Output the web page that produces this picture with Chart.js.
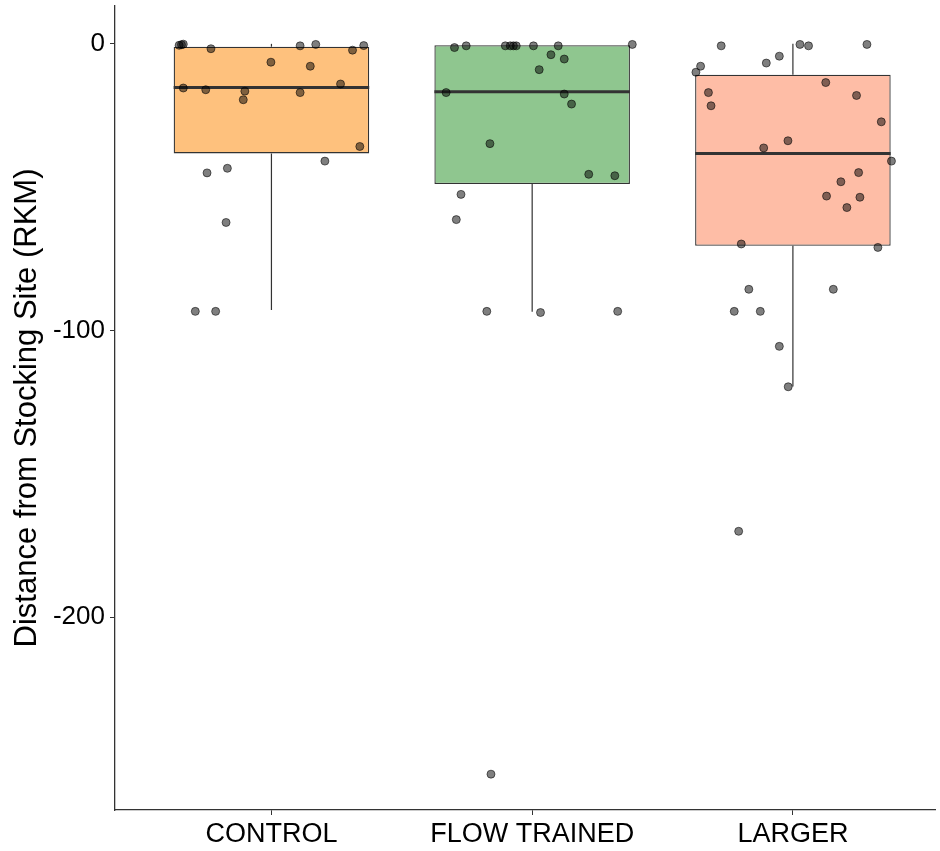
<!DOCTYPE html>
<html>
<head>
<meta charset="utf-8">
<script src="https://cdn.jsdelivr.net/npm/chart.js@4/dist/chart.umd.min.js"></script>
<style>
  html, body { margin: 0; padding: 0; background: #fff; }
  #wrap { width: 940px; height: 851px; }
</style>
</head>
<body>
<div id="wrap"><canvas id="boxChart" width="940" height="851"></canvas></div>
<script>
// categories and tick labels
const categories = ['CONTROL', 'FLOW TRAINED', 'LARGER'];
const yTicks = [0, -100, -200];

// box summaries, one value per category
const q1 = [-38.2, -48.9, -70.4];
const medians = [-15.2, -16.7, -38.2];
const q3 = [-1.0, -0.5, -10.8];
const whiskerLow = [-92.8, -93.4, -119.5];
const whiskerHigh = [0, -0.5, 0];

// jittered points: horizontal offset from the category centre and value
const controlJitter = [-0.354, -0.345, -0.338, -0.232, -0.002, 0.110, 0.170, 0.149, 0.311, 0.354, 0.265, -0.338,
  -0.252, -0.102, -0.108, 0.110, 0.339, 0.205, -0.169, -0.247, -0.174, -0.292, -0.214];
const controlValues = [-0.5, -0.3, -0.1, -1.7, -6.4, -0.7, -0.2, -7.8, -2.2, -0.6, -14.0, -15.4,
  -16.0, -16.5, -19.5, -17.0, -35.8, -40.9, -43.4, -45.0, -62.3, -93.3, -93.3];

const flowJitter = [-0.298, -0.253, -0.103, -0.084, -0.072, -0.061, 0.005, 0.100, 0.384, 0.072, 0.123, 0.027,
  -0.330, 0.123, 0.151, -0.162, 0.217, 0.317, -0.273, -0.291, -0.174, 0.032, 0.328, -0.158];
const flowValues = [-1.3, -0.7, -0.7, -0.7, -0.7, -0.7, -0.7, -0.7, -0.2, -3.8, -5.3, -9.0,
  -17.0, -17.5, -21.0, -34.8, -45.5, -46.0, -52.5, -61.3, -93.3, -93.7, -93.3, -254.7];

const largerJitter = [-0.275, 0.027, 0.060, 0.284, -0.052, -0.102, -0.354, -0.372, 0.126, -0.324, 0.244, -0.314,
  0.339, -0.019, -0.112, 0.378, 0.252, 0.184, 0.129, 0.257, 0.207, -0.198, 0.326, -0.169, 0.155,
  -0.225, -0.125, -0.052, -0.018, -0.208];
const largerValues = [-0.7, -0.2, -0.7, -0.2, -4.3, -6.7, -7.8, -9.9, -13.5, -17.0, -18.0, -21.6,
  -27.2, -33.8, -36.3, -40.9, -44.9, -48.1, -53.1, -53.5, -57.1, -69.8, -71.0, -85.6, -85.6,
  -93.3, -93.3, -105.5, -119.6, -170.0];

const boxColors = ['#FEC17D', '#8FC68F', '#FEBDA6'];
const darkLine = '#333333';
const fontFamily = '"Liberation Sans", Arial, sans-serif';
const halfBox = 0.375;

const jitters = [controlJitter, flowJitter, largerJitter];
const values = [controlValues, flowValues, largerValues];

// build datasets
const datasets = [];

// points on top
jitters.forEach((jit, i) => {
  datasets.push({
    type: 'scatter',
    order: 1,
    data: jit.map((dx, k) => ({ x: i + 1 + dx, y: values[i][k] })),
    pointRadius: 4,
    pointHoverRadius: 4,
    backgroundColor: 'rgba(0,0,0,0.5)',
    borderColor: 'rgba(0,0,0,0.55)',
    borderWidth: 1
  });
});

// median lines
medians.forEach((m, i) => {
  datasets.push({
    type: 'line',
    order: 2,
    data: [{ x: i + 1 - halfBox, y: m }, { x: i + 1 + halfBox, y: m }],
    borderColor: darkLine,
    borderWidth: 3,
    pointRadius: 0,
    fill: false
  });
});

// whiskers
categories.forEach((c, i) => {
  datasets.push({
    type: 'line',
    order: 4,
    data: [{ x: i + 1, y: q1[i] }, { x: i + 1, y: whiskerLow[i] }],
    borderColor: darkLine,
    borderWidth: 1.2,
    pointRadius: 0,
    fill: false
  });
  datasets.push({
    type: 'line',
    order: 4,
    data: [{ x: i + 1, y: q3[i] }, { x: i + 1, y: whiskerHigh[i] }],
    borderColor: darkLine,
    borderWidth: 1.2,
    pointRadius: 0,
    fill: false
  });
});

// boxes as floating bars
datasets.push({
  type: 'bar',
  order: 3,
  data: categories.map((c, i) => ({ x: i + 1, y: [q1[i], q3[i]] })),
  backgroundColor: boxColors,
  borderColor: darkLine,
  borderWidth: 1.3,
  borderSkipped: false,
  barPercentage: 0.75,
  categoryPercentage: 1.0
});

const ctx = document.getElementById('boxChart');

new Chart(ctx, {
  type: 'bar',
  data: { datasets },
  options: {
    responsive: false,
    animation: false,
    devicePixelRatio: 1,
    layout: { padding: { top: 6, right: 0, left: 0, bottom: 0 } },
    plugins: {
      legend: { display: false },
      tooltip: { enabled: false }
    },
    scales: {
      x: {
        type: 'linear',
        offset: false,
        min: 0.4,
        max: 3.545,
        afterBuildTicks: (s) => { s.ticks = categories.map((c, i) => ({ value: i + 1 })); },
        afterFit: (s) => { s.height = 41; s.paddingLeft = 0; s.paddingRight = 0; },
        ticks: {
          callback: (v) => categories[v - 1],
          color: '#000',
          padding: 3,
          maxRotation: 0,
          autoSkip: false,
          font: { family: fontFamily, size: 27 }
        },
        grid: {
          display: true,
          drawOnChartArea: false,
          drawTicks: true,
          tickLength: 5,
          offset: false,
          color: darkLine
        },
        border: { display: true, color: darkLine, width: 1.3 }
      },
      y: {
        type: 'linear',
        min: -267.2,
        max: 13.2,
        afterBuildTicks: (s) => { s.ticks = yTicks.map(v => ({ value: v })); },
        afterFit: (s) => { s.width = 115; s.paddingTop = 0; s.paddingBottom = 0; },
        ticks: {
          callback: (v) => String(v),
          color: '#000',
          padding: 5,
          font: { family: fontFamily, size: 26 }
        },
        grid: {
          display: true,
          drawOnChartArea: false,
          drawTicks: true,
          tickLength: 5,
          color: darkLine
        },
        border: { display: true, color: darkLine, width: 1.3 },
        title: {
          display: true,
          text: 'Distance from Stocking Site (RKM)',
          color: '#000',
          padding: { top: 9, bottom: 0 },
          font: { family: fontFamily, size: 31 }
        }
      }
    }
  }
});
</script>
</body>
</html>
